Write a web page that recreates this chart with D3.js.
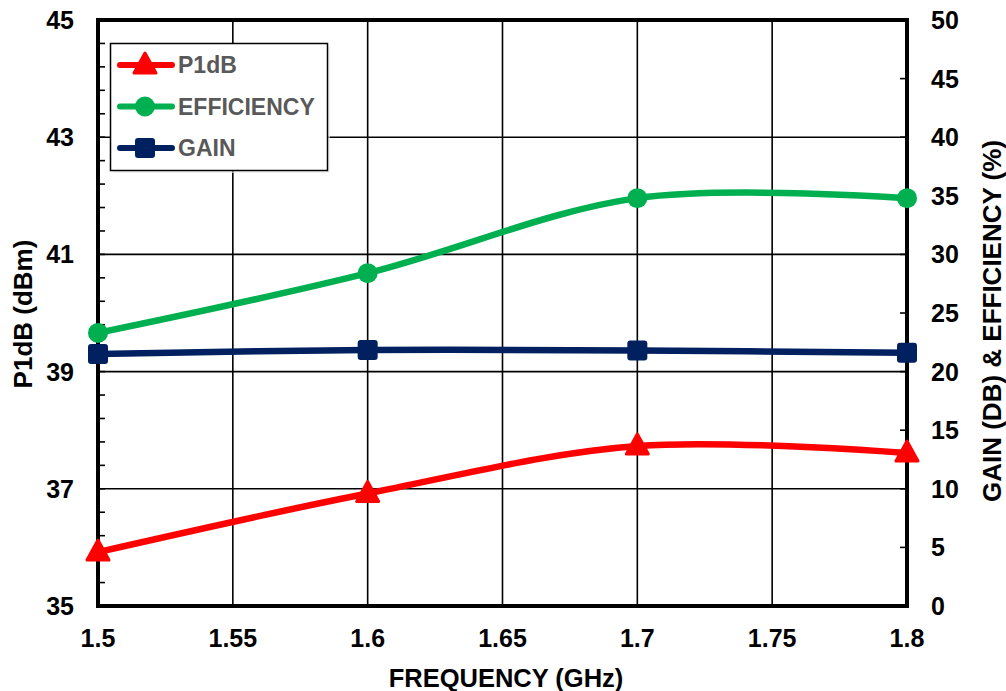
<!DOCTYPE html>
<html lang="en">
<head>
<meta charset="UTF-8">
<title>P1dB, Efficiency, Gain vs Frequency</title>
<style>
  body { margin: 0; background: #fff; }
  svg { display: block; font-family: "Liberation Sans", Arial, sans-serif; font-weight: bold; }
</style>
</head>
<body>
<svg id="chart"></svg>
<script src="https://d3js.org/d3.v7.min.js"></script>
<script>
const freq = [1.5, 1.6, 1.7, 1.8];
const p1db = [35.92, 36.92, 37.73, 37.61];
const efficiency = [23.3, 28.4, 34.8, 34.8];
const gain = [21.5, 21.85, 21.8, 21.6];

const xTicks = [1.5, 1.55, 1.6, 1.65, 1.7, 1.75, 1.8];
const leftTicks = [35, 37, 39, 41, 43, 45];
const rightTicks = [0, 5, 10, 15, 20, 25, 30, 35, 40, 45, 50];

const W = 1006, H = 691;
const L = 98, R = 907, T = 20, B = 606;

const svg = d3.select('#chart').attr('width', W).attr('height', H);

const x = d3.scaleLinear().domain([1.5, 1.8]).range([L, R]);
const yL = d3.scaleLinear().domain([35, 45]).range([B, T]);
const yR = d3.scaleLinear().domain([0, 50]).range([B, T]);

// grid
svg.append('g').selectAll('line').data(xTicks.slice(1, -1)).enter().append('line')
  .attr('x1', d => x(d)).attr('x2', d => x(d)).attr('y1', T).attr('y2', B)
  .attr('stroke', '#000').attr('stroke-width', 1.6);
svg.append('g').selectAll('line').data(leftTicks.slice(1, -1)).enter().append('line')
  .attr('x1', L).attr('x2', R).attr('y1', d => yL(d)).attr('y2', d => yL(d))
  .attr('stroke', '#000').attr('stroke-width', 1.6);

// minor ticks on left axis (inward)
const minor = d3.range(35, 45.001, 0.4);
svg.append('g').selectAll('line').data(minor).enter().append('line')
  .attr('x1', L).attr('x2', L + 7).attr('y1', d => yL(d)).attr('y2', d => yL(d))
  .attr('stroke', '#000').attr('stroke-width', 1.6);
// right axis ticks (inward)
svg.append('g').selectAll('line').data(rightTicks).enter().append('line')
  .attr('x1', R - 7).attr('x2', R).attr('y1', d => yR(d)).attr('y2', d => yR(d))
  .attr('stroke', '#000').attr('stroke-width', 1.6);

// frame
svg.append('rect').attr('x', L).attr('y', T).attr('width', R - L).attr('height', B - T)
  .attr('fill', 'none').attr('stroke', '#000').attr('stroke-width', 4);

// tick labels
svg.append('g').selectAll('text').data(leftTicks).enter().append('text')
  .attr('x', 74).attr('y', d => yL(d)).attr('dy', '0.36em')
  .attr('text-anchor', 'end').attr('font-size', 25).text(d => d);
svg.append('g').selectAll('text').data(rightTicks).enter().append('text')
  .attr('x', 931).attr('y', d => yR(d)).attr('dy', '0.36em')
  .attr('text-anchor', 'start').attr('font-size', 25).text(d => d);
svg.append('g').selectAll('text').data(xTicks).enter().append('text')
  .attr('x', d => x(d)).attr('y', 647)
  .attr('text-anchor', 'middle').attr('font-size', 25).text(d => d);

// axis titles
svg.append('text').attr('x', 506).attr('y', 687).attr('text-anchor', 'middle')
  .attr('font-size', 25.5).text('FREQUENCY (GHz)');
svg.append('text').attr('transform', 'translate(32,314) rotate(-90)')
  .attr('text-anchor', 'middle').attr('font-size', 26).text('P1dB (dBm)');
svg.append('text').attr('transform', 'translate(1001,321) rotate(-90)')
  .attr('text-anchor', 'middle').attr('font-size', 26).text('GAIN (DB) & EFFICIENCY (%)');

// series
const series = [
  { name: 'P1dB', values: p1db, y: yL, color: '#FF0000', marker: 'triangle' },
  { name: 'EFFICIENCY', values: efficiency, y: yR, color: '#00B050', marker: 'circle' },
  { name: 'GAIN', values: gain, y: yR, color: '#002060', marker: 'square' }
];

function drawMarker(g, type, cx, cy, color) {
  if (type === 'circle') {
    g.append('circle').attr('cx', cx).attr('cy', cy).attr('r', 10).attr('fill', color);
  } else if (type === 'square') {
    g.append('rect').attr('x', cx - 10).attr('y', cy - 10).attr('width', 20).attr('height', 20)
      .attr('rx', 3).attr('fill', color);
  } else {
    g.append('path').attr('d', `M${cx},${cy - 12}L${cx + 11},${cy + 8}L${cx - 11},${cy + 8}Z`)
      .attr('fill', color).attr('stroke', color).attr('stroke-width', 3).attr('stroke-linejoin', 'round');
  }
}

series.forEach(s => {
  const pts = freq.map((f, i) => [x(f), s.y(s.values[i])]);
  svg.append('path').attr('d', d3.line().curve(d3.curveCatmullRom.alpha(0))(pts))
    .attr('fill', 'none').attr('stroke', s.color).attr('stroke-width', 6.5);
  const g = svg.append('g');
  pts.forEach(p => drawMarker(g, s.marker, p[0], p[1], s.color));
});

// legend
const lg = svg.append('g');
lg.append('rect').attr('x', 113).attr('y', 46).attr('width', 217).attr('height', 127)
  .attr('fill', '#e8e8e8').attr('opacity', 0.6);
lg.append('rect').attr('x', 110.5).attr('y', 43.5).attr('width', 217).attr('height', 127)
  .attr('fill', '#fff').attr('stroke', '#000').attr('stroke-width', 1.5);
series.forEach((s, i) => {
  const cy = 65 + i * 41.5;
  lg.append('line').attr('x1', 120).attr('x2', 172).attr('y1', cy).attr('y2', cy)
    .attr('stroke', s.color).attr('stroke-width', 6).attr('stroke-linecap', 'round');
  drawMarker(lg, s.marker, 145, cy, s.color);
  lg.append('text').attr('x', 178).attr('y', cy).attr('dy', '0.36em')
    .attr('font-size', 23).attr('fill', '#595959').text(s.name);
});
</script>
</body>
</html>
